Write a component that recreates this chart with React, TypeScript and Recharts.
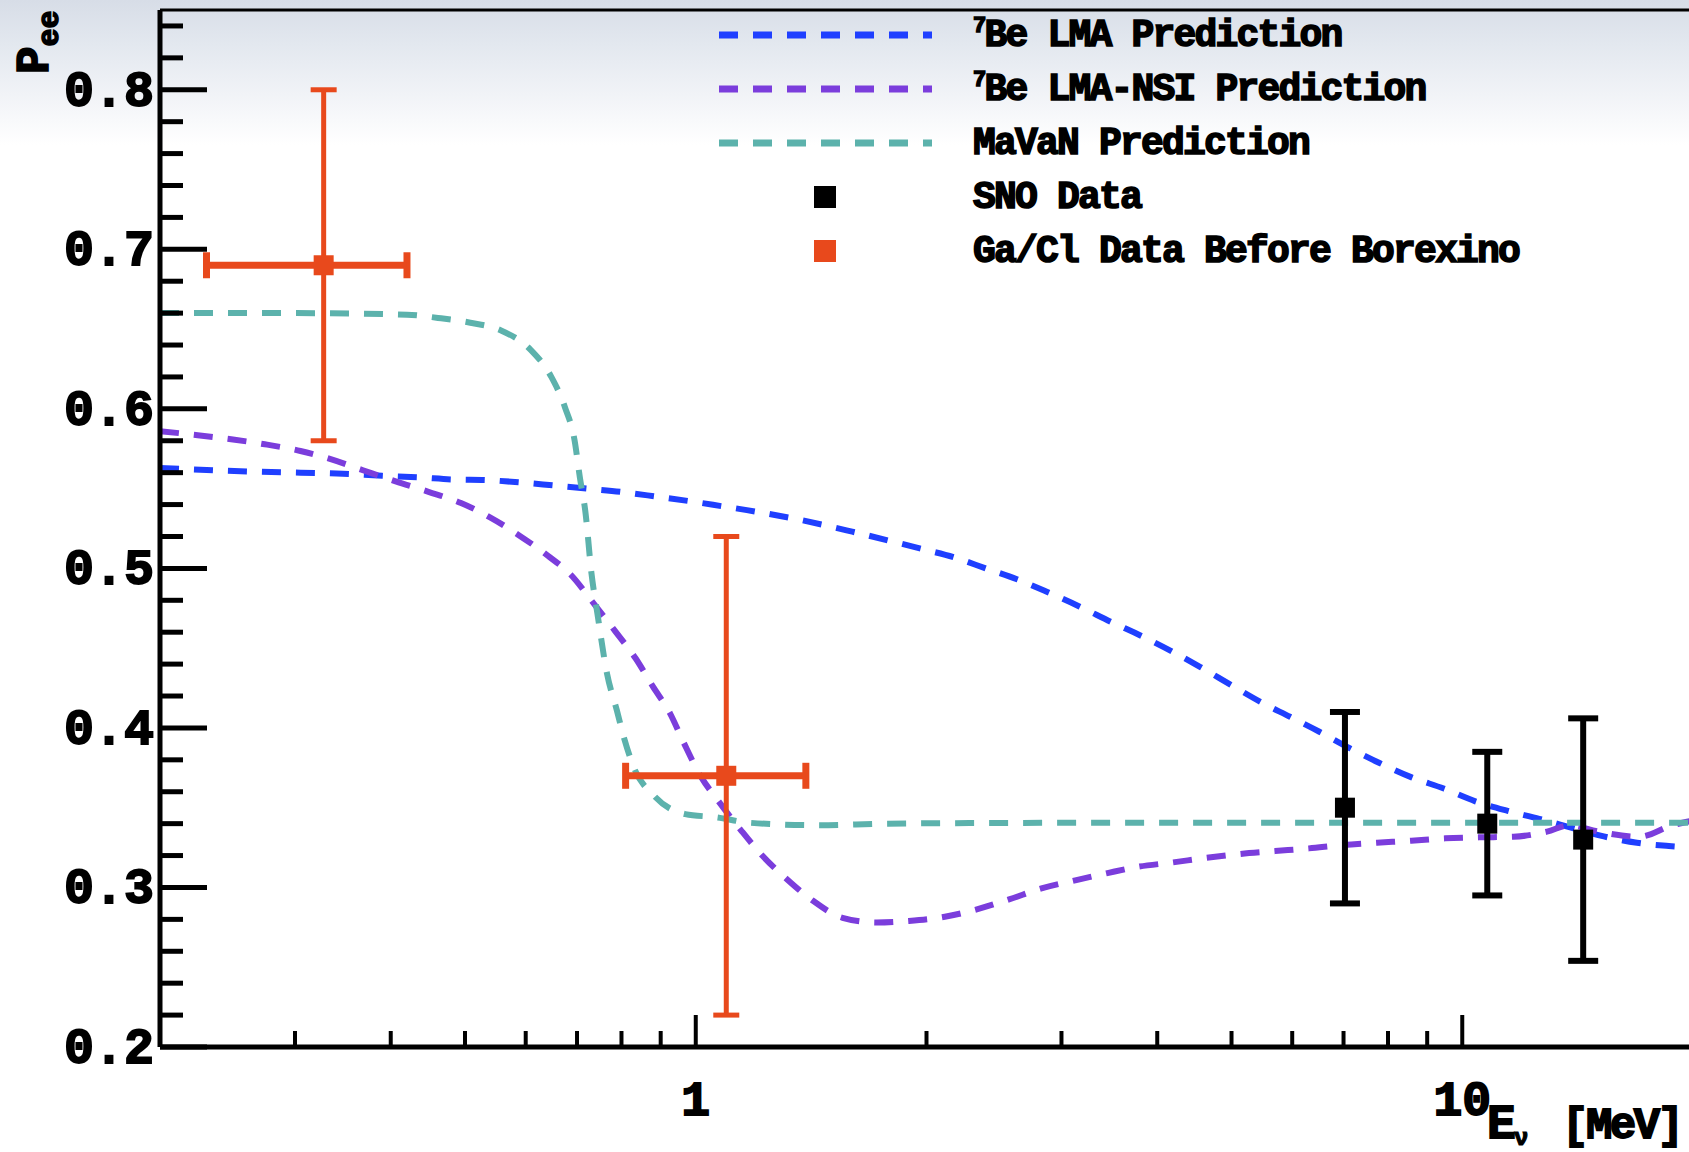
import React from 'react';
import { ComposedChart, Line, Scatter, XAxis, YAxis, ErrorBar, ReferenceLine } from 'recharts';

// Neutrino energy grid [MeV] and survival probability for each prediction curve
const lmaEnergy = [0.2, 0.25, 0.305, 0.34, 0.39, 0.435, 0.483, 0.533, 0.587, 0.652, 0.722, 0.797, 0.889, 0.986, 1.081, 1.166, 1.35, 1.6, 1.96, 2.17, 2.39, 2.63, 2.88, 3.17, 3.48, 3.82, 4.18, 4.56, 4.99, 5.47, 5.96, 6.51, 7.15, 7.8, 8.59, 9.46, 10.4, 11.46, 12.6, 13.9, 15.3, 16.9, 18.6, 20];
const lmaPee = [0.563, 0.561, 0.56, 0.5595, 0.558, 0.557, 0.5557, 0.5553, 0.554, 0.552, 0.55, 0.548, 0.545, 0.542, 0.539, 0.5365, 0.531, 0.523, 0.5125, 0.507, 0.5, 0.493, 0.485, 0.476, 0.4665, 0.4575, 0.448, 0.438, 0.427, 0.416, 0.407, 0.3976, 0.387, 0.378, 0.369, 0.362, 0.354, 0.348, 0.343, 0.3374, 0.332, 0.328, 0.326, 0.325];

const nsiEnergy = [0.2, 0.224, 0.249, 0.274, 0.305, 0.334, 0.368, 0.406, 0.448, 0.494, 0.539, 0.587, 0.641, 0.687, 0.736, 0.784, 0.835, 0.879, 0.926, 0.964, 1.017, 1.067, 1.145, 1.221, 1.316, 1.419, 1.554, 1.722, 1.897, 2.113, 2.315, 2.563, 2.825, 3.137, 3.445, 3.78, 4.19, 4.64, 5.14, 5.7, 6.31, 6.99, 7.74, 8.58, 9.5, 10.5, 11.66, 12.9, 13.8, 15.06, 17.0, 18.8, 20];
const nsiPee = [0.586, 0.5835, 0.5808, 0.5778, 0.5736, 0.5685, 0.5615, 0.5545, 0.548, 0.541, 0.532, 0.521, 0.508, 0.496, 0.478, 0.461, 0.4435, 0.426, 0.409, 0.391, 0.369, 0.355, 0.336, 0.32, 0.305, 0.292, 0.281, 0.278, 0.279, 0.2816, 0.286, 0.2925, 0.2994, 0.3046, 0.309, 0.313, 0.3157, 0.3186, 0.321, 0.3228, 0.3245, 0.3266, 0.328, 0.3293, 0.3308, 0.3314, 0.3318, 0.335, 0.339, 0.335, 0.3318, 0.339, 0.342];

const mavanEnergy = [0.2, 0.3, 0.42, 0.461, 0.508, 0.558, 0.609, 0.648, 0.675, 0.695, 0.706, 0.718, 0.731, 0.744, 0.766, 0.789, 0.807, 0.829, 0.884, 0.969, 1.062, 1.18, 1.45, 1.78, 3, 20];
const mavanPee = [0.66, 0.66, 0.659, 0.657, 0.654, 0.649, 0.637, 0.62, 0.601, 0.58, 0.557, 0.535, 0.497, 0.472, 0.434, 0.411, 0.393, 0.376, 0.357, 0.346, 0.344, 0.3405, 0.339, 0.34, 0.3405, 0.3405];

// Measurements
const snoEnergy = [7.03, 10.78, 14.38];
const snoPee = [0.35, 0.34, 0.33];
const snoErr = [0.06, 0.045, 0.076];

const gaclEnergy = [0.327, 1.096];
const gaclPee = [0.69, 0.37];
const gaclEnergyErr = [[0.097, 0.093], [0.286, 0.296]];
const gaclErr = [0.11, 0.15];

// Axis ticks
const xTicks = [0.3, 0.4, 0.5, 0.6, 0.7, 0.8, 0.9, 1, 2, 3, 4, 5, 6, 7, 8, 9, 10];
const xLabelled = [1, 10];
const yTicks = [0.2, 0.22, 0.24, 0.26, 0.28, 0.3, 0.32, 0.34, 0.36, 0.38, 0.4, 0.42, 0.44, 0.46, 0.48, 0.5, 0.52, 0.54, 0.56, 0.58, 0.6, 0.62, 0.64, 0.66, 0.68, 0.7, 0.72, 0.74, 0.76, 0.78, 0.8, 0.82, 0.84];

// Legend entries
const legendNames = ['Be LMA Prediction', 'Be LMA-NSI Prediction', 'MaVaN Prediction', 'SNO Data', 'Ga/Cl Data Before Borexino'];
const legendSup = ['7', '7', '', '', ''];

const BLUE = '#1f3fff';
const PURPLE = '#7b3ddc';
const TEAL = '#5cb2ac';
const ORANGE = '#e8491c';
const BLACK = '#000000';
const legendColors = [BLUE, PURPLE, TEAL, BLACK, ORANGE];
const legendKinds = ['line', 'line', 'line', 'box', 'box'];

const FONT = '"Liberation Mono", "Courier New", monospace';
const DASH = '19 15';

const curve = (xs: number[], ys: number[]) => xs.map((x, i) => ({ x, y: ys[i] }));
const lmaData = curve(lmaEnergy, lmaPee);
const nsiData = curve(nsiEnergy, nsiPee);
const mavanData = curve(mavanEnergy, mavanPee);
const snoData = snoEnergy.map((x, i) => ({ x, y: snoPee[i], ey: snoErr[i] }));
const gaclData = gaclEnergy.map((x, i) => ({ x, y: gaclPee[i], ey: gaclErr[i], ex: gaclEnergyErr[i] }));

const textStyle = (weight: number) =>
  ({
    fontFamily: FONT,
    fontWeight: 700,
    fill: '#000',
    stroke: '#000',
    strokeWidth: weight,
  }) as const;

function XTick(props: any) {
  const { x, y, payload } = props;
  const v = payload.value as number;
  const major = xLabelled.includes(v);
  return (
    <g>
      <line x1={x} x2={x} y1={y} y2={y - (major ? 32 : 16)} stroke="#000" strokeWidth={4} />
      {major && (
        <text x={x} y={y + 68} textAnchor="middle" fontSize={48} {...textStyle(1.8)}>
          {String(v)}
        </text>
      )}
    </g>
  );
}

function YTick(props: any) {
  const { x, y, payload } = props;
  const v = payload.value as number;
  const major = Math.abs(v * 10 - Math.round(v * 10)) < 1e-6;
  return (
    <g>
      <line x1={x} x2={x + (major ? 47 : 23)} y1={y} y2={y} stroke="#000" strokeWidth={5} />
      {major && (
        <text x={x - 6} y={y + 16} textAnchor="end" fontSize={50} {...textStyle(1.8)}>
          {v.toFixed(1)}
        </text>
      )}
    </g>
  );
}

const square = (color: string) => (p: any) => (
  <rect x={p.cx - 10} y={p.cy - 10} width={20} height={20} fill={color} />
);

function Overlay() {
  const rows = [35, 89, 143, 197, 251];
  return (
    <svg width={1689} height={1152} style={{ position: 'absolute', left: 0, top: 0, pointerEvents: 'none' }}>
      {legendNames.map((name, i) => (
        <g key={name}>
          {legendKinds[i] === 'line' ? (
            <line x1={719} x2={932} y1={rows[i]} y2={rows[i]} stroke={legendColors[i]} strokeWidth={7} strokeDasharray={DASH} />
          ) : (
            <rect x={814} y={rows[i] - 11} width={22} height={22} fill={legendColors[i]} />
          )}
          <text x={973} y={rows[i] + 11} fontSize={38} letterSpacing={-1.8} {...textStyle(1.6)}>
            {legendSup[i] && (
              <tspan fontSize={22} dy={-14}>
                {legendSup[i]}
              </tspan>
            )}
            <tspan dy={legendSup[i] ? 14 : 0}>{name}</tspan>
          </text>
        </g>
      ))}
      {/* y-axis title */}
      <text transform="translate(48,74) rotate(-90)" fontSize={46} {...textStyle(1.6)}>
        P
        <tspan fontSize={30} dy={10}>
          ee
        </tspan>
      </text>
      {/* x-axis title */}
      <text x={1487} y={1138} fontSize={48} {...textStyle(1.8)}>
        E
      </text>
      <text x={1514} y={1145} fontSize={24} {...textStyle(1.2)}>
        ν
      </text>
      <text x={1562} y={1138} fontSize={44} letterSpacing={-2.5} {...textStyle(1.8)}>
        [MeV]
      </text>
    </svg>
  );
}

export default function App() {
  return (
    <div
      style={{
        position: 'absolute',
        left: 0,
        top: 0,
        width: 1689,
        height: 1152,
        overflow: 'hidden',
        background: 'linear-gradient(to bottom, #d7dde7 0px, #e3e8ef 45px, #f1f3f7 95px, #ffffff 145px)',
      }}
    >
      <ComposedChart width={1700} height={1152} margin={{ top: 10, right: 7, left: 100, bottom: 0 }}>
        <XAxis
          dataKey="x"
          type="number"
          scale="log"
          domain={[0.2, 20]}
          allowDataOverflow
          ticks={xTicks}
          interval={0}
          height={105}
          tickSize={0}
          tickMargin={0}
          tickLine={false}
          axisLine={{ stroke: '#000', strokeWidth: 5 }}
          tick={<XTick />}
        />
        <YAxis
          dataKey="y"
          type="number"
          domain={[0.2, 0.85]}
          allowDataOverflow
          ticks={yTicks}
          interval={0}
          width={60}
          tickSize={0}
          tickMargin={0}
          tickLine={false}
          axisLine={{ stroke: '#000', strokeWidth: 5 }}
          tick={<YTick />}
        />
        <ReferenceLine y={0.85} stroke="#000" strokeWidth={3} />
        <Line data={lmaData} dataKey="y" type="monotone" stroke={BLUE} strokeWidth={6} strokeDasharray={DASH} dot={false} isAnimationActive={false} />
        <Line data={nsiData} dataKey="y" type="monotone" stroke={PURPLE} strokeWidth={6} strokeDasharray={DASH} dot={false} isAnimationActive={false} />
        <Line data={mavanData} dataKey="y" type="monotone" stroke={TEAL} strokeWidth={6} strokeDasharray={DASH} dot={false} isAnimationActive={false} />
        <Scatter data={gaclData} dataKey="y" shape={square(ORANGE)} isAnimationActive={false}>
          <ErrorBar dataKey="ey" direction="y" width={13} stroke={ORANGE} strokeWidth={5} isAnimationActive={false} />
          <ErrorBar dataKey="ex" direction="x" width={13} stroke={ORANGE} strokeWidth={7} isAnimationActive={false} />
        </Scatter>
        <Scatter data={snoData} dataKey="y" shape={square(BLACK)} isAnimationActive={false}>
          <ErrorBar dataKey="ey" direction="y" width={15} stroke={BLACK} strokeWidth={6} isAnimationActive={false} />
        </Scatter>
      </ComposedChart>
      <Overlay />
    </div>
  );
}
